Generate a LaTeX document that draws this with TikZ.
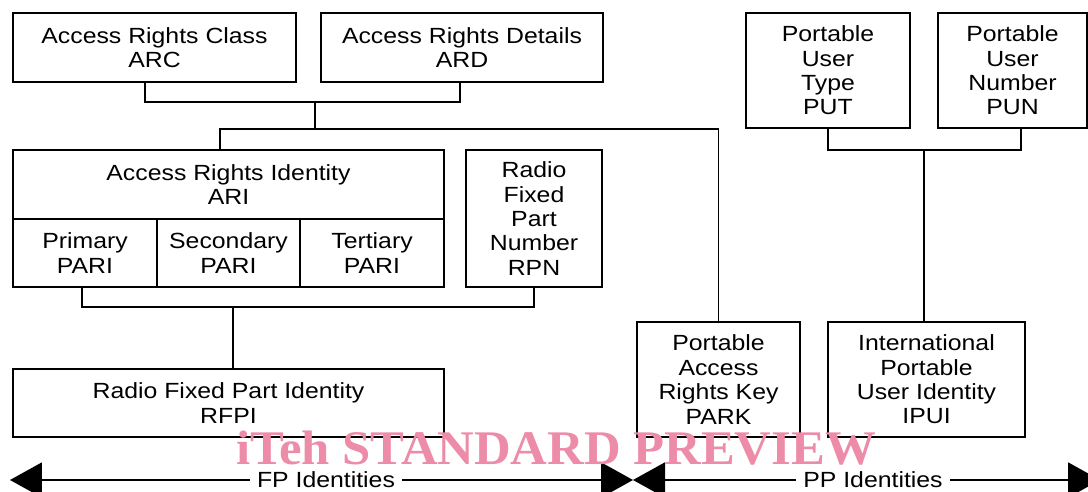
\documentclass[tikz,border=0pt]{standalone}
\usepackage{fontspec}
\setmainfont{Liberation Sans}[FakeStretch=1.13]
\newfontfamily\wmfont{Liberation Serif}[FakeStretch=1.05]
\usetikzlibrary{arrows.meta}
\definecolor{wmpink}{RGB}{236,140,168}
\tikzstyle{idbox}=[draw,line width=1.1pt,rectangle,align=center,inner sep=0pt,font=\fontsize{12.5}{13.9}\selectfont]
\tikzstyle{link} = [draw,line width=1.1pt]
\tikzstyle{span} = [draw,line width=1.1pt,-{Triangle[length=0.64cm,width=0.70cm]}]
\tikzstyle{spanlabel} = [inner sep=4pt,font=\fontsize{12.5}{13.9}\selectfont]

\begin{document}
\begin{tikzpicture}[x=0.02cm, y=-0.02cm]

   \def\u{0.02cm}
   \useasboundingbox (0,0) rectangle (1088,492);

%FP identities
    \foreach \pos/\name/\w/\h/\label in {{(154.5,47.5)/arc/283/69/{Access Rights Class\\ARC}}, {(462,47.5)/ard/282/69/{Access Rights Details\\ARD}}, {(228.5,184.5)/ari/431/69/{Access Rights Identity\\ARI}}, {(85,253)/pri/144/68/{Primary\\PARI}}, {(228.5,253)/sec/143/68/{Secondary\\PARI}}, {(372,253)/ter/144/68/{Tertiary\\PARI}}, {(534,218.5)/rpn/136/137/{Radio\\Fixed\\Part\\Number\\RPN}}, {(228.5,403)/rfpi/431/68/{Radio Fixed Part Identity\\RFPI}}}
        \node[idbox, minimum width=\w*\u, minimum height=\h*\u] (\name) at \pos {\label};

%PP identities
    \foreach \pos/\name/\w/\h/\label in {{(718.5,379.5)/park/163/115/{Portable\\Access\\Rights Key\\PARK}}, {(926.5,379.5)/ipui/197/115/{International\\Portable\\User Identity\\IPUI}}, {(828,70.5)/put/164/115/{Portable\\User\\Type\\PUT}}, {(1012.5,70.5)/pun/149/115/{Portable\\User\\Number\\PUN}}}
        \node[idbox, minimum width=\w*\u, minimum height=\h*\u] (\name) at \pos {\label};

 % Edges
    \coordinate (j1) at (315,102);
    \coordinate (j2) at (315,129);
    \coordinate (j3) at (233,307);
    \coordinate (j4) at (924,150);

    \path[link] ([xshift=-9.5*\u]arc.south) |- (j1) -| ([xshift=-2*\u]ard.south);
    \path[link] (j1) -- (j2);
    \path[link] ([xshift=-8.5*\u]ari.north) |- (j2) -| (park.north);

    \path[link] ([xshift=-3*\u]pri.south) |- (j3) -| (rpn.south);
    \path[link] (j3) -- ([xshift=4.5*\u]rfpi.north);

    \path[link] (put.south) |- (j4) -| ([xshift=8.5*\u]pun.south);
    \path[link] (j4) -- ([xshift=-2.5*\u]ipui.north);

% Label
    \node[spanlabel] (fp) at (326,480) {FP Identities};
    \node[spanlabel] (pp) at (873,480) {PP Identities};
    \coordinate (fpend) at (10,480);
    \coordinate (mid) at (633,480);
    \coordinate (ppend) at (1100,480);

    \foreach \source/ \dest in {fp/fpend, fp/mid, pp/mid, pp/ppend}
        \path[span] (\source) -- (\dest);

    \node[font=\wmfont\bfseries\fontsize{27.5}{30}\selectfont, text=wmpink, anchor=base] (wm) at (556,465) {iTeh STANDARD PREVIEW};

\end{tikzpicture}
\end{document}
